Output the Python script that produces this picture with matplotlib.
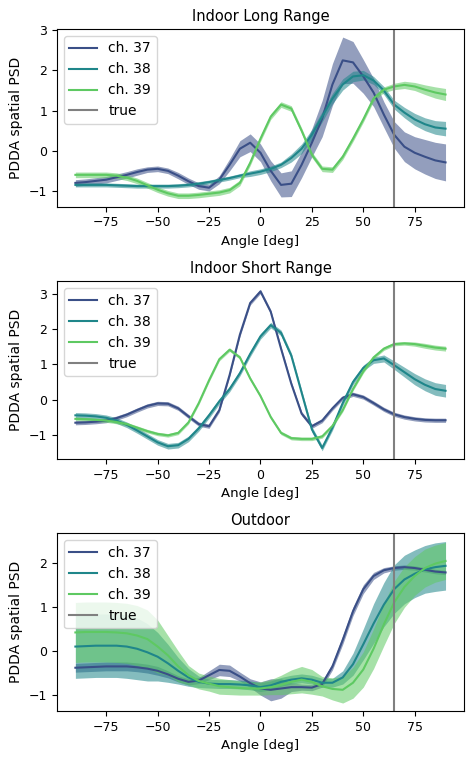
import numpy as np
import matplotlib
matplotlib.use('Agg')
import matplotlib.pyplot as plt

# angle grid, 5 deg steps
angles = np.arange(-90, 91, 5)
true_angle = 65
labels = ['ch. 37', 'ch. 38', 'ch. 39']
colors = ['#3a4f87', '#1f868a', '#5ec962']
titles = ['Indoor Long Range', 'Indoor Short Range', 'Outdoor']

# Indoor long range: mean and spread per channel
long_37 = [-0.80, -0.78, -0.75, -0.72, -0.66, -0.60, -0.53, -0.47, -0.45, -0.50, -0.62, -0.76, -0.88,
           -0.92, -0.72, -0.35, 0.05, 0.20, -0.05, -0.50, -0.85, -0.82, -0.35, 0.20, 0.80, 1.65, 2.25,
           2.20, 1.85, 1.45, 0.90, 0.40, 0.10, -0.05, -0.15, -0.24, -0.29]
long_37_std = [0.08, 0.08, 0.08, 0.08, 0.08, 0.08, 0.08, 0.07, 0.07, 0.07, 0.08, 0.08, 0.08,
               0.08, 0.10, 0.15, 0.20, 0.22, 0.22, 0.25, 0.30, 0.32, 0.32, 0.35, 0.45, 0.52, 0.58,
               0.52, 0.42, 0.35, 0.32, 0.33, 0.37, 0.40, 0.43, 0.45, 0.46]
long_38 = [-0.85, -0.85, -0.85, -0.85, -0.86, -0.87, -0.88, -0.88, -0.88, -0.88, -0.87, -0.85, -0.82,
           -0.78, -0.73, -0.68, -0.62, -0.57, -0.52, -0.45, -0.35, -0.18, 0.05, 0.40, 0.85, 1.30, 1.65,
           1.85, 1.88, 1.75, 1.50, 1.15, 0.95, 0.78, 0.66, 0.58, 0.55]
long_38_std = [0.05, 0.05, 0.05, 0.05, 0.05, 0.05, 0.05, 0.05, 0.05, 0.05, 0.05, 0.05, 0.05,
               0.05, 0.05, 0.05, 0.05, 0.07, 0.07, 0.07, 0.07, 0.10, 0.12, 0.13, 0.13, 0.13, 0.14,
               0.13, 0.12, 0.10, 0.10, 0.11, 0.13, 0.15, 0.16, 0.17, 0.18]
long_39 = [-0.60, -0.60, -0.60, -0.60, -0.62, -0.67, -0.75, -0.86, -0.97, -1.06, -1.12, -1.12, -1.10,
           -1.07, -1.04, -0.98, -0.80, -0.30, 0.30, 0.85, 1.15, 1.05, 0.50, -0.10, -0.45, -0.47, -0.15,
           0.30, 0.78, 1.30, 1.52, 1.60, 1.64, 1.60, 1.52, 1.45, 1.40]
long_39_std = [0.07, 0.07, 0.07, 0.07, 0.07, 0.07, 0.07, 0.07, 0.07, 0.07, 0.07, 0.07, 0.07,
               0.07, 0.07, 0.07, 0.07, 0.07, 0.07, 0.07, 0.07, 0.07, 0.07, 0.07, 0.07, 0.07, 0.07,
               0.07, 0.07, 0.07, 0.07, 0.08, 0.09, 0.10, 0.12, 0.14, 0.15]

# Indoor short range
short_37 = [-0.66, -0.65, -0.63, -0.60, -0.53, -0.43, -0.30, -0.18, -0.11, -0.12, -0.25, -0.48, -0.70,
            -0.76, -0.30, 0.70, 1.85, 2.75, 3.08, 2.50, 1.45, 0.45, -0.40, -0.76, -0.60, -0.25, 0.05,
            0.15, 0.07, -0.10, -0.28, -0.42, -0.50, -0.55, -0.58, -0.59, -0.59]
short_37_std = [0.06] * 37
short_38 = [-0.45, -0.46, -0.48, -0.52, -0.60, -0.72, -0.88, -1.05, -1.22, -1.33, -1.30, -1.12, -0.82,
            -0.45, -0.05, 0.30, 0.75, 1.30, 1.80, 2.12, 1.90, 1.25, 0.20, -0.85, -1.38, -0.80, -0.10,
            0.50, 0.90, 1.12, 1.17, 0.98, 0.78, 0.58, 0.42, 0.30, 0.25]
short_38_std = [0.08, 0.08, 0.08, 0.08, 0.08, 0.08, 0.08, 0.08, 0.08, 0.08, 0.08, 0.08, 0.08,
                0.08, 0.08, 0.08, 0.08, 0.08, 0.08, 0.08, 0.08, 0.08, 0.08, 0.08, 0.08, 0.08, 0.08,
                0.08, 0.08, 0.09, 0.10, 0.12, 0.14, 0.16, 0.17, 0.18, 0.18]
short_39 = [-0.55, -0.56, -0.58, -0.60, -0.64, -0.70, -0.80, -0.90, -0.98, -1.02, -0.95, -0.65, -0.10,
            0.55, 1.15, 1.42, 1.20, 0.60, 0.10, -0.50, -0.95, -1.10, -1.12, -1.12, -1.05, -0.75, -0.30,
            0.30, 0.80, 1.20, 1.45, 1.58, 1.60, 1.58, 1.53, 1.48, 1.45]
short_39_std = [0.05] * 33 + [0.06, 0.07, 0.07, 0.07]

# Outdoor
out_37 = [-0.38, -0.37, -0.36, -0.35, -0.35, -0.35, -0.37, -0.40, -0.45, -0.53, -0.63, -0.70, -0.67,
          -0.55, -0.43, -0.45, -0.58, -0.73, -0.85, -0.88, -0.85, -0.82, -0.82, -0.83, -0.75, -0.35, 0.25,
          0.90, 1.40, 1.70, 1.83, 1.88, 1.90, 1.88, 1.84, 1.80, 1.78]
out_37_std = [0.10, 0.10, 0.10, 0.10, 0.10, 0.10, 0.10, 0.10, 0.10, 0.08, 0.07, 0.07, 0.07,
              0.10, 0.13, 0.13, 0.10, 0.10, 0.15, 0.25, 0.22, 0.10, 0.07, 0.07, 0.07, 0.08, 0.10,
              0.10, 0.10, 0.08, 0.06, 0.05, 0.05, 0.05, 0.05, 0.05, 0.05]
out_38 = [0.10, 0.11, 0.12, 0.12, 0.12, 0.10, 0.05, -0.03, -0.13, -0.28, -0.45, -0.60, -0.70,
          -0.74, -0.75, -0.75, -0.76, -0.78, -0.82, -0.78, -0.70, -0.65, -0.62, -0.65, -0.72, -0.72, -0.60,
          -0.30, 0.15, 0.62, 1.05, 1.40, 1.62, 1.75, 1.85, 1.90, 1.93]
out_38_std = [0.72, 0.72, 0.72, 0.72, 0.72, 0.72, 0.70, 0.65, 0.55, 0.43, 0.30, 0.20, 0.13,
              0.10, 0.10, 0.10, 0.10, 0.10, 0.10, 0.10, 0.10, 0.10, 0.10, 0.10, 0.10, 0.10, 0.15,
              0.25, 0.35, 0.45, 0.50, 0.55, 0.55, 0.54, 0.54, 0.55, 0.55]
out_39 = [0.42, 0.43, 0.43, 0.43, 0.42, 0.40, 0.35, 0.27, 0.10, -0.10, -0.35, -0.55, -0.68,
          -0.74, -0.80, -0.82, -0.84, -0.85, -0.85, -0.82, -0.77, -0.70, -0.65, -0.70, -0.80, -0.86, -0.88,
          -0.72, -0.42, 0.05, 0.60, 1.10, 1.45, 1.70, 1.88, 1.98, 2.04]
out_39_std = [0.68, 0.68, 0.68, 0.68, 0.68, 0.68, 0.68, 0.66, 0.60, 0.45, 0.35, 0.22, 0.18,
              0.17, 0.18, 0.17, 0.16, 0.15, 0.15, 0.17, 0.22, 0.27, 0.30, 0.28, 0.22, 0.25, 0.30,
              0.35, 0.40, 0.45, 0.48, 0.48, 0.46, 0.44, 0.43, 0.42, 0.42]

panels = [
    [(long_37, long_37_std), (long_38, long_38_std), (long_39, long_39_std)],
    [(short_37, short_37_std), (short_38, short_38_std), (short_39, short_39_std)],
    [(out_37, out_37_std), (out_38, out_38_std), (out_39, out_39_std)],
]

fig, axes = plt.subplots(3, 1, figsize=(4.74, 7.63), dpi=100)
fig.subplots_adjust(left=0.12, right=0.979, top=0.962, bottom=0.068, hspace=0.42)

for ax, title, series in zip(axes, titles, panels):
    for (mean, std), label, color in zip(series, labels, colors):
        mean = np.array(mean)
        std = np.array(std)
        ax.plot(angles, mean, color=color, lw=1.5, label=label)
        ax.fill_between(angles, mean - std, mean + std, color=color, alpha=0.55, lw=0)
    ax.axvline(true_angle, color='gray', lw=1.5, label='true')
    ax.set_title(title, fontsize=10.5)
    ax.set_xlabel('Angle [deg]', fontsize=9.5)
    ax.set_ylabel('PDDA spatial PSD', fontsize=10)
    ax.tick_params(labelsize=9)
    ax.legend(loc='upper left', fontsize=10)

plt.savefig('out.png', dpi=100)
